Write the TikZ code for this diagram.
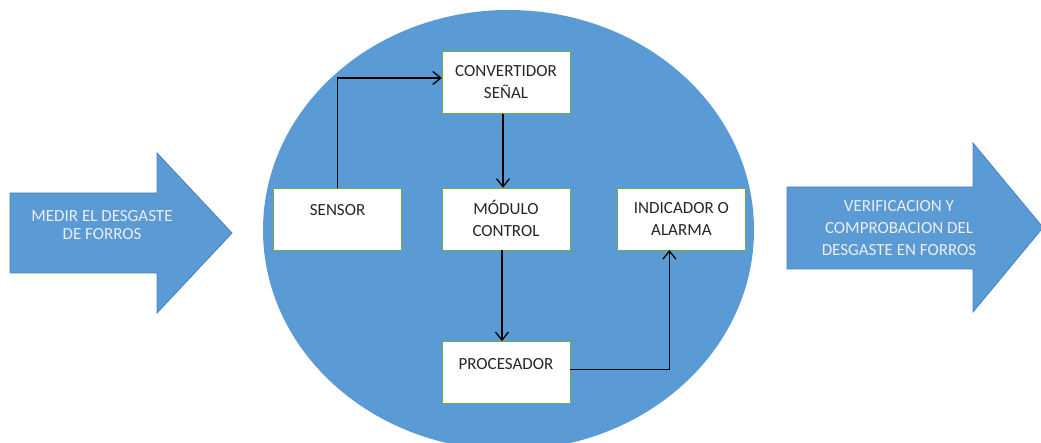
\documentclass[tikz,border=0pt]{standalone}
\usepackage{fontspec}
\setmainfont{Carlito}
\usetikzlibrary{arrows.meta,positioning}

\definecolor{fondo}{HTML}{5B9BD5}
\definecolor{borde}{HTML}{4A82B8}
\definecolor{verde}{HTML}{70AD47}

\begin{document}
\begin{tikzpicture}[x=1pt,y=-1pt,align=center,node distance=74pt,font=\fontsize{17}{22}\selectfont]
\tikzstyle{bloque}=[rectangle,draw=verde,fill=white,minimum width=128pt,minimum height=62pt,inner sep=0pt,text=black!85]
\tikzstyle{unalinea}=[text depth=17pt]
\tikzstyle{flujo}=[-{Straight Barb[length=8pt,width=13pt]},line width=1.3pt]
\tikzstyle{flecha}=[fill=fondo,draw=borde,line width=0.8pt]
\tikzstyle{rotulo}=[text=white!93!black]

\useasboundingbox (0,0) rectangle (1041,443);

% entrada y salida
\draw[flecha] (10,193) -- (157,193) -- (157,153) -- (232,233) -- (157,313) -- (157,273) -- (10,273) -- cycle;
\draw[flecha] (787,187) -- (973,187) -- (973,143) -- (1043,227.5) -- (973,312) -- (973,269) -- (787,269) -- cycle;
\node[rotulo,font=\fontsize{17}{18}\selectfont] (medir) at (102,225) {MEDIR EL DESGASTE\\DE FORROS};
\node[rotulo] (verificacion) at (899,228) {VERIFICACION Y\\COMPROBACION DEL\\DESGASTE EN FORROS};

% sistema
\fill[fondo] (508.5,230) ellipse [x radius=245.5, y radius=220];

\node[bloque] (convertidor) at (506,82.5) {CONVERTIDOR\\SEÑAL};
\node[bloque,below=of convertidor] (modulo) {MÓDULO\\CONTROL};
\node[bloque,unalinea,left=40pt of modulo] (sensor) {SENSOR};
\node[bloque,right=47pt of modulo] (indicador) {INDICADOR O\\ALARMA};
\node[bloque,unalinea,below=91pt of modulo] (procesador) {PROCESADOR};

\draw[flujo] (sensor.north) |- ([yshift=4.5pt]convertidor.west);
\draw[flujo] ([xshift=-3pt]convertidor.south) -- ([xshift=-3pt]modulo.north);
\draw[flujo] ([xshift=-4pt]modulo.south) -- ([xshift=-4pt]procesador.north);
\draw[flujo] ([yshift=3pt]procesador.east) -| ([xshift=-12pt]indicador.south);
\end{tikzpicture}
\end{document}
